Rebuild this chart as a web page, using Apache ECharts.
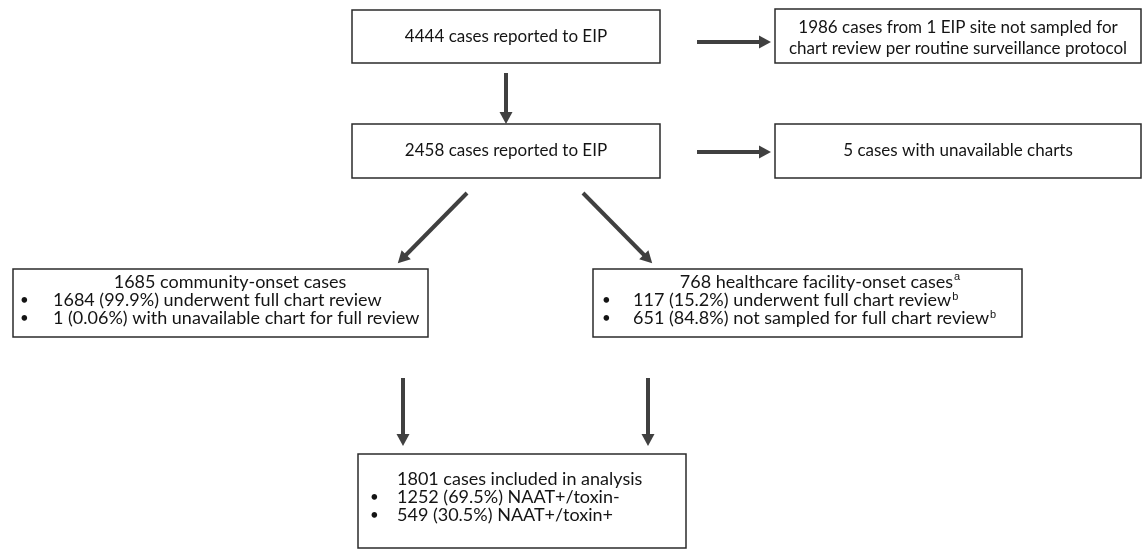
<!DOCTYPE html>
<html>
<head>
<meta charset="utf-8">
<script src="https://cdn.jsdelivr.net/npm/echarts@6/dist/echarts.min.js"></script>
<style>
html, body { margin: 0; padding: 0; background: #fff; }
#main { width: 1144px; height: 549px; }
</style>
</head>
<body>
<div id="main"></div>
<script>
// box texts (flowchart nodes)
const boxTitles = [
    '4444 cases reported to EIP',
    '1986 cases from 1 EIP site not sampled for\nchart review per routine surveillance protocol',
    '2458 cases reported to EIP',
    '5 cases with unavailable charts',
    '1685 community-onset cases',
    '768 healthcare facility-onset cases{sup|a}',
    '1801 cases included in analysis'
];
const boxBullets = [
    [],
    [],
    [],
    [],
    ['1684 (99.9%) underwent full chart review', '1 (0.06%) with unavailable chart for full review'],
    ['117 (15.2%) underwent full chart review{sup|b}', '651 (84.8%) not sampled for full chart review{sup|b}'],
    ['1252 (69.5%) NAAT+/toxin-', '549 (30.5%) NAAT+/toxin+']
];
// arrows: from box -> to box
const arrowLinks = [[0, 1], [0, 2], [2, 3], [2, 4], [2, 5], [4, 6], [5, 6]];

// layout in pixel units of the axes (0..1144, 0..549)
const boxRects = [
    [352, 10, 660, 63],
    [775, 9, 1141, 63],
    [352, 124, 660, 178],
    [775, 124, 1141, 178],
    [13, 269, 428, 337],
    [593, 269, 1022, 337],
    [358, 454, 686, 548]
];
// [titleX, titleY, align, fontSize, bulletX, textX, firstBulletY]
const boxTextPos = [
    [506, 37, 'center', 17],
    [958, 38, 'center', 17],
    [506, 151, 'center', 17],
    [958, 151, 'center', 17],
    [230, 282, 'center', 18, 20, 53, 300],
    [820, 282, 'center', 18, 602, 633, 300],
    [397, 479, 'left', 18, 370, 397, 497]
];
const arrowPaths = [
    [[697, 42], [765, 42]],
    [[506, 73], [506, 118]],
    [[697, 152], [765, 152]],
    [[467, 193], [402, 259]],
    [[583, 193], [648, 259]],
    [[403, 378], [403, 440]],
    [[648, 378], [648, 440]]
];

const FAMILY = 'Lato, "Noto Sans", sans-serif';
const TXT = '#141414';
const LINE_GAP = 18;

let myChart = echarts.init(document.getElementById('main'));

let option = {
    animation: false,
    grid: { left: 0, right: 0, top: 0, bottom: 0 },
    xAxis: { type: 'value', min: 0, max: 1144, show: false },
    yAxis: { type: 'value', min: 0, max: 549, inverse: true, show: false },
    series: [
        {
            type: 'custom',
            coordinateSystem: 'cartesian2d',
            data: boxTitles.map((t, i) => [i]),
            renderItem: function (params, api) {
                let i = api.value(0);
                let r = boxRects[i];
                let p0 = api.coord([r[0], r[1]]);
                let p1 = api.coord([r[2], r[3]]);
                let tp = boxTextPos[i];
                let font = tp[3] + 'px ' + FAMILY;
                let children = [{
                    type: 'rect',
                    shape: { x: p0[0], y: p0[1], width: p1[0] - p0[0], height: p1[1] - p0[1] },
                    style: { fill: '#fff', stroke: '#2b2b2b', lineWidth: 1.5 }
                }];
                let tpos = api.coord([tp[0], tp[1]]);
                let rich = { sup: { fontSize: 11, verticalAlign: 'top', fill: TXT, padding: [0, 0, 7, 1] } };
                children.push({
                    type: 'text',
                    style: {
                        text: boxTitles[i], x: tpos[0], y: tpos[1], font: font, fill: TXT,
                        align: tp[2], verticalAlign: 'middle', lineHeight: 21, rich: rich
                    }
                });
                boxBullets[i].forEach(function (b, k) {
                    let bp = api.coord([tp[4], tp[6] + k * LINE_GAP]);
                    let xp = api.coord([tp[5], tp[6] + k * LINE_GAP]);
                    children.push({
                        type: 'text',
                        style: { text: '•', x: bp[0], y: bp[1], font: '15px ' + FAMILY, fill: TXT, align: 'left', verticalAlign: 'middle' }
                    });
                    children.push({
                        type: 'text',
                        style: { text: b, x: xp[0], y: xp[1], font: font, fill: TXT, align: 'left', verticalAlign: 'middle', rich: rich }
                    });
                });
                return { type: 'group', children: children };
            }
        },
        {
            type: 'lines',
            coordinateSystem: 'cartesian2d',
            symbol: ['none', 'triangle'],
            symbolSize: [0, [13, 12]],
            lineStyle: { color: '#404040', width: 4, opacity: 1 },
            data: arrowLinks.map((l, i) => ({ name: l.join('-'), coords: arrowPaths[i] }))
        }
    ]
};
myChart.setOption(option);
</script>
</body>
</html>
